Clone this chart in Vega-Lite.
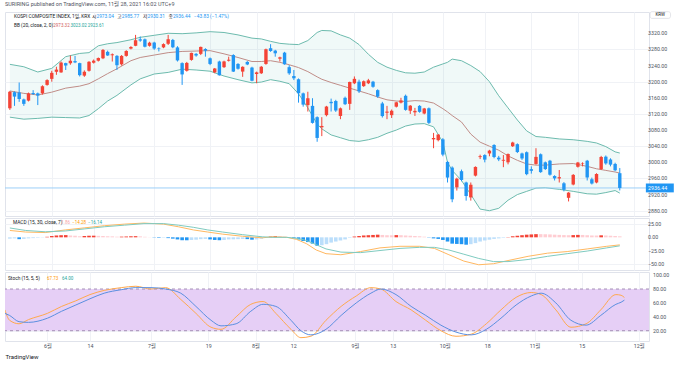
{
"$schema":"https://vega.github.io/schema/vega-lite/v6.json",
"background":"white",
"padding":{"left":4,"top":2,"right":0,"bottom":0},
"config":{"font":"Roboto, 'Noto Sans CJK KR', sans-serif","view":{"stroke":"#E0E3EB"},"axis":{"labelFontSize":5.3,"labelColor":"#4C525E","ticks":false,"domain":false,"gridColor":"#F0F2F6","title":null}},
"title":{"text":"SURIRING published on TradingView.com, 11월 28, 2021 16:02 UTC+9","anchor":"start","fontSize":5.5,"fontWeight":"normal","color":"#50535E","offset":3,"frame":"group"},
"spacing":0,
"datasets":{
"c":[{"i":0,"o":3134,"h":3177,"l":3130,"c":3175},{"i":1,"o":3174,"h":3176,"l":3140,"c":3163},{"i":2,"o":3173,"h":3198,"l":3150,"c":3157},{"i":3,"o":3156,"h":3158,"l":3140,"c":3145},{"i":4,"o":3153,"h":3173,"l":3151,"c":3171},{"i":5,"o":3172,"h":3179,"l":3167,"c":3169.5},{"i":6,"o":3171,"h":3173,"l":3142,"c":3165.5},{"i":7,"o":3171,"h":3191,"l":3168,"c":3188.7},{"i":8,"o":3192,"h":3206,"l":3190,"c":3203.9},{"i":9,"o":3207,"h":3227,"l":3200,"c":3221.9},{"i":10,"o":3224.5,"h":3237,"l":3217,"c":3230},{"i":11,"o":3223,"h":3250,"l":3222,"c":3247.4},{"i":12,"o":3246,"h":3247,"l":3229,"c":3240.1},{"i":13,"o":3246,"h":3265,"l":3242,"c":3252.1},{"i":14,"o":3251,"h":3264,"l":3246,"c":3247.8},{"i":15,"o":3246,"h":3247,"l":3213,"c":3216.2},{"i":16,"o":3215,"h":3228,"l":3212,"c":3224.6},{"i":17,"o":3227,"h":3251,"l":3225,"c":3249.3},{"i":18,"o":3247,"h":3255,"l":3245,"c":3252.1},{"i":19,"o":3252,"h":3260,"l":3250,"c":3258.6},{"i":20,"o":3258,"h":3281,"l":3256,"c":3278.7},{"i":21,"o":3274,"h":3277,"l":3264,"c":3265},{"i":22,"o":3265.5,"h":3270,"l":3250,"c":3267.9},{"i":23,"o":3264,"h":3266,"l":3229,"c":3240.8},{"i":24,"o":3243,"h":3266,"l":3240,"c":3263.9},{"i":25,"o":3264,"h":3278,"l":3262,"c":3276.2},{"i":26,"o":3282,"h":3288,"l":3280,"c":3286.1},{"i":27,"o":3289,"h":3316,"l":3288,"c":3302.8},{"i":28,"o":3305,"h":3312,"l":3299,"c":3301.9},{"i":29,"o":3305,"h":3307,"l":3285,"c":3286.7},{"i":30,"o":3289,"h":3299,"l":3287,"c":3296.7},{"i":31,"o":3297,"h":3299,"l":3279,"c":3282.1},{"i":32,"o":3283,"h":3285,"l":3275,"c":3281.8},{"i":33,"o":3285,"h":3295,"l":3283,"c":3293.2},{"i":34,"o":3294,"h":3316,"l":3291,"c":3305.2},{"i":35,"o":3303.5,"h":3306,"l":3283,"c":3285.3},{"i":36,"o":3285,"h":3288,"l":3250,"c":3252.7},{"i":37,"o":3246,"h":3248,"l":3192,"c":3218},{"i":38,"o":3227,"h":3249,"l":3225,"c":3246.5},{"i":39,"o":3254,"h":3272,"l":3252,"c":3271.4},{"i":40,"o":3269,"h":3271,"l":3262,"c":3264.9},{"i":41,"o":3269,"h":3287,"l":3266,"c":3286.2},{"i":42,"o":3281,"h":3283,"l":3262,"c":3276.9},{"i":43,"o":3258,"h":3260,"l":3241,"c":3244},{"i":44,"o":3223,"h":3234,"l":3221,"c":3232.7},{"i":45,"o":3250,"h":3252,"l":3215,"c":3215.9},{"i":46,"o":3236,"h":3252,"l":3234,"c":3250.2},{"i":47,"o":3252,"h":3262,"l":3250,"c":3254.4},{"i":48,"o":3266,"h":3268,"l":3224,"c":3225},{"i":49,"o":3244,"h":3246,"l":3230,"c":3232.1},{"i":50,"o":3225,"h":3238,"l":3212,"c":3236.9},{"i":51,"o":3249,"h":3251,"l":3241,"c":3242.7},{"i":52,"o":3235,"h":3237,"l":3201,"c":3202.3},{"i":53,"o":3219,"h":3225,"l":3196,"c":3223},{"i":54,"o":3221,"h":3239,"l":3219,"c":3237.1},{"i":55,"o":3244,"h":3282,"l":3242,"c":3280.4},{"i":56,"o":3283,"h":3293,"l":3274,"c":3276.1},{"i":57,"o":3277,"h":3279,"l":3262,"c":3270.4},{"i":58,"o":3257,"h":3262,"l":3250,"c":3260.4},{"i":59,"o":3272,"h":3274,"l":3242,"c":3243.2},{"i":60,"o":3236,"h":3241,"l":3217,"c":3220.7},{"i":61,"o":3214,"h":3229,"l":3204,"c":3208.4},{"i":62,"o":3206,"h":3208,"l":3148,"c":3171.3},{"i":63,"o":3171,"h":3173,"l":3138,"c":3143.1},{"i":64,"o":3142,"h":3175,"l":3126,"c":3158.9},{"i":65,"o":3140,"h":3159,"l":3096,"c":3097.8},{"i":66,"o":3112,"h":3114,"l":3051,"c":3060.5},{"i":67,"o":3087,"h":3112,"l":3065,"c":3090.2},{"i":68,"o":3117,"h":3140,"l":3114,"c":3138.3},{"i":69,"o":3150,"h":3158,"l":3126,"c":3146.6},{"i":70,"o":3152,"h":3155,"l":3125,"c":3128.5},{"i":71,"o":3115,"h":3136,"l":3107,"c":3133.9},{"i":72,"o":3160,"h":3163,"l":3142,"c":3144.2},{"i":73,"o":3145,"h":3200,"l":3130,"c":3199.3},{"i":74,"o":3196,"h":3213,"l":3194,"c":3207},{"i":75,"o":3200,"h":3205,"l":3172,"c":3175.9},{"i":76,"o":3189,"h":3203,"l":3187,"c":3201.1},{"i":77,"o":3196,"h":3207,"l":3194,"c":3203.3},{"i":78,"o":3200,"h":3202,"l":3185,"c":3187.4},{"i":79,"o":3179,"h":3181,"l":3160,"c":3163},{"i":80,"o":3146,"h":3150,"l":3111,"c":3114.7},{"i":81,"o":3123,"h":3140,"l":3107,"c":3125.8},{"i":82,"o":3117,"h":3131,"l":3110,"c":3127.9},{"i":83,"o":3138,"h":3150,"l":3136,"c":3148.8},{"i":84,"o":3148,"h":3160,"l":3146,"c":3153.4},{"i":85,"o":3165,"h":3168,"l":3128,"c":3130.1},{"i":86,"o":3128,"h":3142,"l":3120,"c":3140.5},{"i":87,"o":3124,"h":3135,"l":3115,"c":3127.6},{"i":88,"o":3140,"h":3142,"l":3123,"c":3125.2},{"i":89,"o":3121,"h":3135,"l":3119,"c":3133.6},{"i":90,"o":3134,"h":3136,"l":3095,"c":3097.9},{"i":91,"o":3057,"h":3073,"l":3035,"c":3060.3},{"i":92,"o":3055,"h":3070,"l":3052,"c":3068.8},{"i":93,"o":3057,"h":3060,"l":3015,"c":3019.2},{"i":94,"o":3001,"h":3003,"l":2950,"c":2962.2},{"i":95,"o":2987,"h":2990,"l":2901,"c":2908.3},{"i":96,"o":2938,"h":2962,"l":2930,"c":2959.5},{"i":97,"o":2978,"h":2982,"l":2953,"c":2956.3},{"i":98,"o":2950,"h":2952,"l":2905,"c":2916.4},{"i":99,"o":2913,"h":2950,"l":2905,"c":2944.4},{"i":100,"o":2967,"h":2990,"l":2965,"c":2988.6},{"i":101,"o":3013,"h":3019,"l":3008,"c":3015.1},{"i":102,"o":3018,"h":3020,"l":3000,"c":3006.7},{"i":103,"o":3022,"h":3031,"l":3015,"c":3029},{"i":104,"o":3043,"h":3045,"l":3010,"c":3013.1},{"i":105,"o":3011.6,"h":3016,"l":3003,"c":3007.3},{"i":106,"o":3004,"h":3018,"l":2988,"c":3006.2},{"i":107,"o":3000,"h":3022,"l":2995,"c":3020.5},{"i":108,"o":3040,"h":3051,"l":3038,"c":3049.1},{"i":109,"o":3045,"h":3047,"l":3023,"c":3025.5},{"i":110,"o":3022,"h":3024,"l":3006,"c":3009.6},{"i":111,"o":3025,"h":3027,"l":2968,"c":2970.7},{"i":112,"o":2983,"h":2990,"l":2972,"c":2979},{"i":113,"o":2996,"h":3035,"l":2994,"c":3013.5},{"i":114,"o":3020,"h":3022,"l":2974,"c":2975.7},{"i":115,"o":3000,"h":3002,"l":2981,"c":2983.3},{"i":116,"o":3004,"h":3006,"l":2967,"c":2969.3},{"i":117,"o":2966,"h":2968,"l":2955,"c":2960.2},{"i":118,"o":2960,"h":2981,"l":2950,"c":2963.2},{"i":119,"o":2948,"h":2951,"l":2928,"c":2932},{"i":120,"o":2912,"h":2926,"l":2903,"c":2924.9},{"i":121,"o":2945,"h":2971,"l":2943,"c":2968.8},{"i":122,"o":2989,"h":3001,"l":2987,"c":2999.5},{"i":123,"o":2996,"h":3000,"l":2990,"c":2997.2},{"i":124,"o":3004,"h":3006,"l":2955,"c":2962.4},{"i":125,"o":2958,"h":2962,"l":2945,"c":2947.4},{"i":126,"o":2950,"h":2973,"l":2948,"c":2971},{"i":127,"o":2983,"h":3016,"l":2981,"c":3013.3},{"i":128,"o":3014,"h":3017,"l":2994,"c":2997.3},{"i":129,"o":3007,"h":3010,"l":2990,"c":2994.3},{"i":130,"o":2996,"h":2999,"l":2978,"c":2980.3},{"i":131,"o":2973.04,"h":2985.77,"l":2930.31,"c":2936.44}],
"bb":[{"i":0,"u":3243,"m":3177,"l":3112},{"i":3,"u":3237,"m":3171,"l":3107},{"i":6,"u":3224,"m":3167,"l":3109},{"i":9,"u":3233,"m":3174,"l":3112},{"i":12,"u":3262,"m":3184,"l":3111},{"i":15,"u":3270,"m":3189,"l":3110},{"i":17,"u":3272,"m":3195,"l":3116},{"i":19,"u":3289,"m":3207,"l":3133},{"i":21,"u":3294,"m":3220,"l":3152},{"i":23,"u":3297,"m":3232,"l":3166},{"i":26,"u":3304,"m":3252,"l":3192},{"i":28,"u":3310,"m":3260,"l":3207},{"i":31,"u":3315,"m":3266,"l":3219},{"i":34,"u":3320,"m":3272,"l":3223},{"i":37,"u":3319,"m":3275,"l":3231},{"i":40,"u":3321,"m":3276,"l":3229},{"i":43,"u":3324,"m":3277,"l":3226},{"i":46,"u":3322,"m":3269,"l":3214},{"i":49,"u":3316,"m":3260,"l":3205},{"i":52,"u":3308,"m":3250,"l":3197},{"i":54,"u":3306,"m":3250,"l":3199},{"i":56,"u":3300,"m":3252,"l":3205},{"i":58,"u":3295,"m":3248,"l":3201},{"i":60,"u":3293,"m":3242,"l":3195},{"i":62,"u":3292,"m":3235,"l":3170},{"i":64,"u":3302,"m":3225,"l":3135},{"i":66,"u":3322,"m":3212,"l":3095},{"i":67,"u":3327,"m":3206,"l":3083},{"i":69,"u":3326,"m":3198,"l":3068},{"i":71,"u":3316,"m":3191,"l":3061},{"i":73,"u":3308,"m":3184,"l":3054},{"i":75,"u":3292,"m":3177,"l":3052},{"i":77,"u":3268,"m":3170,"l":3056},{"i":79,"u":3248,"m":3162,"l":3062},{"i":81,"u":3236,"m":3155,"l":3072},{"i":83,"u":3228,"m":3152,"l":3080},{"i":85,"u":3222,"m":3151,"l":3090},{"i":87,"u":3221,"m":3153,"l":3095},{"i":89,"u":3224,"m":3152,"l":3096},{"i":91,"u":3236,"m":3147,"l":3088},{"i":93,"u":3244,"m":3133,"l":3050},{"i":94,"u":3248,"m":3125,"l":3000},{"i":95,"u":3256,"m":3116,"l":2980},{"i":97,"u":3252,"m":3100,"l":2955},{"i":99,"u":3240,"m":3070,"l":2920},{"i":101,"u":3225,"m":3050,"l":2884},{"i":103,"u":3200,"m":3040,"l":2880},{"i":105,"u":3165,"m":3030,"l":2886},{"i":107,"u":3135,"m":3016,"l":2906},{"i":109,"u":3105,"m":3005,"l":2920},{"i":111,"u":3078,"m":2996,"l":2928},{"i":113,"u":3064,"m":2993,"l":2936},{"i":115,"u":3062,"m":2993,"l":2937},{"i":118,"u":3058,"m":2996,"l":2933},{"i":121,"u":3056,"m":2997,"l":2928},{"i":124,"u":3052,"m":2990,"l":2922},{"i":126,"u":3048,"m":2984,"l":2921},{"i":128,"u":3039,"m":2980,"l":2925},{"i":130,"u":3026,"m":2976,"l":2930},{"i":131,"u":3023.02,"m":2973.32,"l":2923.61}],
"ml":[{"i":0,"m":13,"s":17.7},{"i":3.4,"m":10,"s":13},{"i":7.6,"m":9,"s":10.5},{"i":11.9,"m":14,"s":12},{"i":16.1,"m":18,"s":16},{"i":20.3,"m":22,"s":20},{"i":24.6,"m":25,"s":23},{"i":28.8,"m":27,"s":26},{"i":33,"m":25,"s":26},{"i":36.2,"m":20,"s":23},{"i":39.4,"m":14,"s":19},{"i":42.5,"m":10,"s":14},{"i":45.7,"m":6,"s":10},{"i":50,"m":2,"s":5},{"i":54.2,"m":-1,"s":1},{"i":56.3,"m":1,"s":0},{"i":59.5,"m":0,"s":0},{"i":61.6,"m":-4,"s":-2},{"i":63.7,"m":-12,"s":-6},{"i":65.8,"m":-24,"s":-14},{"i":67.9,"m":-31,"s":-22},{"i":71.1,"m":-33,"s":-28},{"i":75.3,"m":-27,"s":-29},{"i":79.5,"m":-20,"s":-25},{"i":83.8,"m":-17,"s":-21},{"i":88,"m":-17,"s":-19},{"i":91.2,"m":-21,"s":-19},{"i":94.3,"m":-33,"s":-24},{"i":97.5,"m":-45,"s":-32},{"i":100.7,"m":-52,"s":-40},{"i":103.9,"m":-50,"s":-46},{"i":107,"m":-44,"s":-46},{"i":111.3,"m":-36,"s":-42},{"i":115.5,"m":-30,"s":-36},{"i":119.7,"m":-27,"s":-31},{"i":124,"m":-22,"s":-26},{"i":128.2,"m":-17,"s":-20},{"i":131,"m":-14.28,"s":-16.14}],
"hist":[{"i":0,"h":-2.5,"k":"lb"},{"i":1,"h":-2,"k":"lb"},{"i":2,"h":-3.5,"k":"b"},{"i":3,"h":-3,"k":"lb"},{"i":4,"h":-2,"k":"lb"},{"i":5,"h":-1.5,"k":"lb"},{"i":6,"h":-1,"k":"lb"},{"i":7,"h":-0.5,"k":"lb"},{"i":8,"h":1,"k":"r"},{"i":9,"h":2.5,"k":"r"},{"i":10,"h":3.5,"k":"r"},{"i":11,"h":4,"k":"r"},{"i":12,"h":4.2,"k":"r"},{"i":13,"h":3.5,"k":"p"},{"i":14,"h":3,"k":"p"},{"i":15,"h":2,"k":"p"},{"i":16,"h":2.5,"k":"r"},{"i":17,"h":3,"k":"r"},{"i":18,"h":3.1,"k":"r"},{"i":19,"h":2.8,"k":"p"},{"i":20,"h":2.5,"k":"p"},{"i":21,"h":2,"k":"p"},{"i":22,"h":1.8,"k":"p"},{"i":23,"h":1.2,"k":"p"},{"i":24,"h":1.3,"k":"r"},{"i":25,"h":1.6,"k":"r"},{"i":26,"h":2,"k":"r"},{"i":27,"h":2.2,"k":"r"},{"i":28,"h":1.8,"k":"p"},{"i":29,"h":1,"k":"p"},{"i":30,"h":0.3,"k":"p"},{"i":31,"h":-0.5,"k":"b"},{"i":32,"h":-1,"k":"b"},{"i":33,"h":-0.8,"k":"lb"},{"i":34,"h":-1.5,"k":"b"},{"i":35,"h":-2.5,"k":"b"},{"i":36,"h":-4,"k":"b"},{"i":37,"h":-5.5,"k":"b"},{"i":38,"h":-5.6,"k":"b"},{"i":39,"h":-5,"k":"lb"},{"i":40,"h":-4.5,"k":"lb"},{"i":41,"h":-3.5,"k":"lb"},{"i":42,"h":-3,"k":"lb"},{"i":43,"h":-4,"k":"b"},{"i":44,"h":-5,"k":"b"},{"i":45,"h":-5.5,"k":"b"},{"i":46,"h":-5,"k":"lb"},{"i":47,"h":-4,"k":"lb"},{"i":48,"h":-3.8,"k":"lb"},{"i":49,"h":-3.5,"k":"lb"},{"i":50,"h":-3,"k":"lb"},{"i":51,"h":-3.4,"k":"b"},{"i":52,"h":-4.5,"k":"b"},{"i":53,"h":-4,"k":"lb"},{"i":54,"h":-2.5,"k":"lb"},{"i":55,"h":-0.5,"k":"lb"},{"i":56,"h":1.5,"k":"r"},{"i":57,"h":2.5,"k":"r"},{"i":58,"h":2,"k":"p"},{"i":59,"h":1.2,"k":"p"},{"i":60,"h":0.2,"k":"p"},{"i":61,"h":-1.5,"k":"b"},{"i":62,"h":-4,"k":"b"},{"i":63,"h":-7,"k":"b"},{"i":64,"h":-9,"k":"b"},{"i":65,"h":-12,"k":"b"},{"i":66,"h":-16,"k":"b"},{"i":67,"h":-15,"k":"lb"},{"i":68,"h":-13,"k":"lb"},{"i":69,"h":-10,"k":"lb"},{"i":70,"h":-8,"k":"lb"},{"i":71,"h":-6,"k":"lb"},{"i":72,"h":-4,"k":"lb"},{"i":73,"h":-1,"k":"lb"},{"i":74,"h":1.5,"k":"r"},{"i":75,"h":2.5,"k":"r"},{"i":76,"h":3.5,"k":"r"},{"i":77,"h":4,"k":"r"},{"i":78,"h":4.5,"k":"r"},{"i":79,"h":5,"k":"r"},{"i":80,"h":4.5,"k":"p"},{"i":81,"h":4,"k":"p"},{"i":82,"h":3.9,"k":"p"},{"i":83,"h":4.2,"k":"r"},{"i":84,"h":4,"k":"p"},{"i":85,"h":3.5,"k":"p"},{"i":86,"h":3,"k":"p"},{"i":87,"h":2.5,"k":"p"},{"i":88,"h":2,"k":"p"},{"i":89,"h":1.2,"k":"p"},{"i":90,"h":-0.5,"k":"b"},{"i":91,"h":-2,"k":"b"},{"i":92,"h":-3,"k":"b"},{"i":93,"h":-5,"k":"b"},{"i":94,"h":-8,"k":"b"},{"i":95,"h":-12,"k":"b"},{"i":96,"h":-12.5,"k":"b"},{"i":97,"h":-13,"k":"b"},{"i":98,"h":-14,"k":"b"},{"i":99,"h":-13,"k":"lb"},{"i":100,"h":-11,"k":"lb"},{"i":101,"h":-8,"k":"lb"},{"i":102,"h":-6,"k":"lb"},{"i":103,"h":-4.5,"k":"lb"},{"i":104,"h":-3,"k":"lb"},{"i":105,"h":-2,"k":"lb"},{"i":106,"h":-1,"k":"lb"},{"i":107,"h":0.5,"k":"r"},{"i":108,"h":2,"k":"r"},{"i":109,"h":3,"k":"r"},{"i":110,"h":4,"k":"r"},{"i":111,"h":5,"k":"r"},{"i":112,"h":5.5,"k":"r"},{"i":113,"h":6,"k":"r"},{"i":114,"h":6,"k":"p"},{"i":115,"h":5.8,"k":"p"},{"i":116,"h":5.5,"k":"p"},{"i":117,"h":5,"k":"p"},{"i":118,"h":4.6,"k":"p"},{"i":119,"h":4.2,"k":"p"},{"i":120,"h":4,"k":"p"},{"i":121,"h":4.2,"k":"r"},{"i":122,"h":4.6,"k":"r"},{"i":123,"h":4.5,"k":"p"},{"i":124,"h":4,"k":"p"},{"i":125,"h":3.5,"k":"p"},{"i":126,"h":3.4,"k":"p"},{"i":127,"h":3.8,"k":"r"},{"i":128,"h":3.5,"k":"p"},{"i":129,"h":3,"k":"p"},{"i":130,"h":2.5,"k":"p"},{"i":131,"h":1.86,"k":"p"}],
"st":[{"i":0,"k":50,"d":45},{"i":1,"k":35,"d":42},{"i":3,"k":30,"d":33},{"i":5,"k":36,"d":32},{"i":9,"k":45,"d":38},{"i":12,"k":55,"d":48},{"i":15,"k":63,"d":57},{"i":18,"k":72,"d":66},{"i":21,"k":78,"d":74},{"i":24.6,"k":82,"d":79},{"i":27.7,"k":84,"d":82},{"i":30.9,"k":80,"d":82},{"i":34,"k":82,"d":80},{"i":37.2,"k":65,"d":74},{"i":40.4,"k":45,"d":55},{"i":43.6,"k":25,"d":35},{"i":45.7,"k":22,"d":27},{"i":48.9,"k":40,"d":30},{"i":52,"k":58,"d":48},{"i":54.6,"k":62,"d":58},{"i":57.3,"k":45,"d":55},{"i":60.5,"k":22,"d":35},{"i":62.6,"k":10,"d":20},{"i":64.7,"k":12,"d":14},{"i":67.9,"k":35,"d":22},{"i":71.1,"k":55,"d":42},{"i":74.3,"k":70,"d":60},{"i":77.4,"k":82,"d":74},{"i":79.5,"k":80,"d":80},{"i":82.7,"k":62,"d":72},{"i":85.9,"k":50,"d":55},{"i":89,"k":35,"d":42},{"i":92.2,"k":20,"d":28},{"i":95.4,"k":12,"d":18},{"i":98.6,"k":15,"d":14},{"i":101.8,"k":30,"d":22},{"i":104.9,"k":50,"d":38},{"i":108.1,"k":68,"d":57},{"i":111.3,"k":75,"d":70},{"i":113.4,"k":72,"d":74},{"i":116.5,"k":50,"d":60},{"i":119.7,"k":25,"d":35},{"i":122.9,"k":30,"d":28},{"i":126,"k":50,"d":42},{"i":129.2,"k":72,"d":58},{"i":130.3,"k":71,"d":61},{"i":131,"k":67.73,"d":64}],
"pt":[{"v":2880},{"v":2920},{"v":2960},{"v":3000},{"v":3040},{"v":3080},{"v":3120},{"v":3160},{"v":3200},{"v":3240},{"v":3280},{"v":3320}],
"mt":[{"v":25},{"v":0},{"v":-25},{"v":-50}],
"stt":[{"v":100},{"v":80},{"v":60},{"v":40},{"v":20}]
},
"vconcat":[
{"width":644,"height":204,"data":{"values":[{}]},
 "layer":[
 {"data":{"name":"bb"},"mark":{"type":"area","color":"#26A69A","opacity":0.07,"clip":true},
  "encoding":{"x":{"field":"i","type":"quantitative","scale":{"domain":[0.03,136.2],"nice":false,"zero":false},"axis":{"values":[9,18,31,43,53,61,74,82,93,102,112,122,134],"labels":false,"grid":true}},
   "y":{"field":"l","type":"quantitative","scale":{"domain":[2866.9,3372.8],"nice":false,"zero":false},"axis":{"orient":"right","values":[2880,2920,2960,3000,3040,3080,3120,3160,3200,3240,3280,3320],"labels":false,"grid":true}},
   "y2":{"field":"u"}}},
 {"data":{"name":"bb"},"mark":{"type":"line","color":"#6DBBAE","strokeWidth":1,"clip":true},"encoding":{"x":{"field":"i","type":"quantitative"},"y":{"field":"u","type":"quantitative"}}},
 {"data":{"name":"bb"},"mark":{"type":"line","color":"#6DBBAE","strokeWidth":1,"clip":true},"encoding":{"x":{"field":"i","type":"quantitative"},"y":{"field":"l","type":"quantitative"}}},
 {"data":{"name":"bb"},"mark":{"type":"line","color":"#C08D88","strokeWidth":1,"clip":true},"encoding":{"x":{"field":"i","type":"quantitative"},"y":{"field":"m","type":"quantitative"}}},
 {"mark":{"type":"rule","color":"#9CCFF8","strokeWidth":1},"encoding":{"y":{"datum":2936.44}}},
 {"data":{"name":"c"},"mark":{"type":"rule","strokeWidth":1,"clip":true},
  "encoding":{"x":{"field":"i","type":"quantitative"},"y":{"field":"l","type":"quantitative"},"y2":{"field":"h"},
   "color":{"condition":{"test":"datum.c >= datum.o","value":"#F44336"},"value":"#2196F3"}}},
 {"data":{"name":"c"},"mark":{"type":"bar","size":3.4,"clip":true},
  "encoding":{"x":{"field":"i","type":"quantitative"},"y":{"field":"o","type":"quantitative"},"y2":{"field":"c"},
   "color":{"condition":{"test":"datum.c >= datum.o","value":"#F44336"},"value":"#2196F3"}}},
 {"data":{"name":"pt"},"mark":{"type":"text","align":"left","baseline":"middle","fontSize":5.3,"color":"#4C525E","clip":false},"encoding":{"x":{"datum":137.05},"y":{"field":"v","type":"quantitative"},"text":{"field":"v","type":"quantitative","format":".2f"}}},
 {"mark":{"type":"text","align":"left","baseline":"middle","fontSize":4.8,"color":"#131722","text":"KOSPI COMPOSITE INDEX, 1일, KRX"},"encoding":{"x":{"datum":0.88},"y":{"datum":3361.6}}},
 {"mark":{"type":"text","align":"left","baseline":"middle","fontSize":4.8,"color":"#131722","text":"시"},"encoding":{"x":{"datum":17.64},"y":{"datum":3361.6}}},
 {"mark":{"type":"text","align":"left","baseline":"middle","fontSize":4.8,"color":"#2196F3","text":"2973.04"},"encoding":{"x":{"datum":18.6},"y":{"datum":3361.6}}},
 {"mark":{"type":"text","align":"left","baseline":"middle","fontSize":4.8,"color":"#131722","text":"고"},"encoding":{"x":{"datum":23.08},"y":{"datum":3361.6}}},
 {"mark":{"type":"text","align":"left","baseline":"middle","fontSize":4.8,"color":"#2196F3","text":"2985.77"},"encoding":{"x":{"datum":24.03},"y":{"datum":3361.6}}},
 {"mark":{"type":"text","align":"left","baseline":"middle","fontSize":4.8,"color":"#131722","text":"저"},"encoding":{"x":{"datum":28.62},"y":{"datum":3361.6}}},
 {"mark":{"type":"text","align":"left","baseline":"middle","fontSize":4.8,"color":"#2196F3","text":"2930.31"},"encoding":{"x":{"datum":29.57},"y":{"datum":3361.6}}},
 {"mark":{"type":"text","align":"left","baseline":"middle","fontSize":4.8,"color":"#131722","text":"종"},"encoding":{"x":{"datum":34.07},"y":{"datum":3361.6}}},
 {"mark":{"type":"text","align":"left","baseline":"middle","fontSize":4.8,"color":"#2196F3","text":"2936.44"},"encoding":{"x":{"datum":35.02},"y":{"datum":3361.6}}},
 {"mark":{"type":"text","align":"left","baseline":"middle","fontSize":4.8,"color":"#2196F3","text":"−43.83 (−1.47%)"},"encoding":{"x":{"datum":39.57},"y":{"datum":3361.6}}},
 {"mark":{"type":"text","align":"left","baseline":"middle","fontSize":4.8,"color":"#131722","text":"BB (20, close, 2, 0)"},"encoding":{"x":{"datum":0.88},"y":{"datum":3338}}},
 {"mark":{"type":"text","align":"left","baseline":"middle","fontSize":4.5,"color":"#D05A5A","text":"2973.32"},"encoding":{"x":{"datum":9.33},"y":{"datum":3338}}},
 {"mark":{"type":"text","align":"left","baseline":"middle","fontSize":4.5,"color":"#26A69A","text":"3023.02"},"encoding":{"x":{"datum":13.03},"y":{"datum":3338}}},
 {"mark":{"type":"text","align":"left","baseline":"middle","fontSize":4.5,"color":"#26A69A","text":"2923.61"},"encoding":{"x":{"datum":16.73},"y":{"datum":3338}}},
 {"mark":{"type":"rect","fill":"white","stroke":"#D1D4DC","strokeWidth":0.6,"cornerRadius":2,"clip":false},"encoding":{"x":{"datum":137.5},"x2":{"datum":141.9},"y":{"datum":3357},"y2":{"datum":3373.5}}},
 {"mark":{"type":"text","align":"center","baseline":"middle","fontSize":4.5,"color":"#131722","clip":false,"text":"KRW"},"encoding":{"x":{"datum":139.7},"y":{"datum":3365.2}}},
 {"mark":{"type":"rect","color":"#2196F3","clip":false},"encoding":{"x":{"datum":136.6},"x2":{"datum":142.6},"y":{"datum":2925.5},"y2":{"datum":2947.5}}},
 {"mark":{"type":"text","align":"left","baseline":"middle","fontSize":5.3,"color":"white","clip":false,"text":"2936.44"},"encoding":{"x":{"datum":137.05},"y":{"datum":2936.44}}}
 ]},
{"width":644,"height":52,"data":{"values":[{}]},
 "layer":[
 {"data":{"name":"hist"},"mark":{"type":"bar","size":3.6,"clip":true},
  "encoding":{"x":{"field":"i","type":"quantitative","scale":{"domain":[0.03,136.2],"nice":false,"zero":false},"axis":{"values":[9,18,31,43,53,61,74,82,93,102,112,122,134],"labels":false,"grid":true}},
   "y":{"field":"h","type":"quantitative","scale":{"domain":[-61.9,36.6],"nice":false,"zero":false},"axis":{"orient":"right","values":[25,0,-25,-50],"labels":false,"grid":true}},
   "color":{"field":"k","type":"nominal","scale":{"domain":["r","p","b","lb"],"range":["#F44336","#FFCDD2","#2196F3","#BBDEFB"]},"legend":null}}},
 {"data":{"name":"ml"},"mark":{"type":"line","color":"#FFB861","strokeWidth":1,"clip":true},"encoding":{"x":{"field":"i","type":"quantitative"},"y":{"field":"m","type":"quantitative"}}},
 {"data":{"name":"ml"},"mark":{"type":"line","color":"#7FCBC0","strokeWidth":1,"clip":true},"encoding":{"x":{"field":"i","type":"quantitative"},"y":{"field":"s","type":"quantitative"}}},
 {"data":{"name":"mt"},"mark":{"type":"text","align":"left","baseline":"middle","fontSize":5.3,"color":"#4C525E","clip":false},"encoding":{"x":{"datum":137.05},"y":{"field":"v","type":"quantitative"},"text":{"field":"v","type":"quantitative","format":".2f"}}},
 {"mark":{"type":"text","align":"left","baseline":"middle","fontSize":4.8,"color":"#131722","text":"MACD (15, 30, close, 7)"},"encoding":{"x":{"datum":0.67},"y":{"datum":27.1}}},
 {"mark":{"type":"text","align":"left","baseline":"middle","fontSize":4.5,"color":"#F7A3A8","text":"1.86"},"encoding":{"x":{"datum":11.02},"y":{"datum":27.1}}},
 {"mark":{"type":"text","align":"left","baseline":"middle","fontSize":4.5,"color":"#FF9800","text":"−14.28"},"encoding":{"x":{"datum":13.4},"y":{"datum":27.1}}},
 {"mark":{"type":"text","align":"left","baseline":"middle","fontSize":4.5,"color":"#26A69A","text":"−16.14"},"encoding":{"x":{"datum":16.8},"y":{"datum":27.1}}}
 ]},
{"width":644,"height":69,"data":{"values":[{}]},
 "layer":[
 {"mark":{"type":"rect","color":"#E6CFF6"},"encoding":{"y":{"datum":20,"type":"quantitative","scale":{"domain":[5.2,104.5],"nice":false,"zero":false},"axis":{"orient":"right","values":[80,60,40,20],"labels":false,"grid":true}},"y2":{"datum":80}}},
 {"mark":{"type":"rule","color":"#A58FB5","strokeDash":[3,3],"strokeWidth":1},"encoding":{"y":{"datum":80}}},
 {"mark":{"type":"rule","color":"#A58FB5","strokeDash":[3,3],"strokeWidth":1},"encoding":{"y":{"datum":20}}},
 {"data":{"name":"st"},"mark":{"type":"line","color":"#FFA94D","strokeWidth":1,"clip":true,"interpolate":"monotone"},
  "encoding":{"x":{"field":"i","type":"quantitative","scale":{"domain":[0.03,136.2],"nice":false,"zero":false},"axis":{"values":[9,18,31,43,53,61,74,82,93,102,112,122,134],"labelExpr":"['6월','14','7월','19','8월','12','9월','13','10월','18','11월','15','12월'][indexof([9,18,31,43,53,61,74,82,93,102,112,122,134], datum.value)]","grid":true,"labelPadding":2,"title":"TradingView","titleAnchor":"start","titleAlign":"left","titleFontSize":6,"titleFontWeight":"normal","titleColor":"#131722","titlePadding":5}},
   "y":{"field":"k","type":"quantitative"}}},
 {"data":{"name":"st"},"mark":{"type":"line","color":"#5B8FE0","strokeWidth":1,"clip":true,"interpolate":"monotone"},"encoding":{"x":{"field":"i","type":"quantitative"},"y":{"field":"d","type":"quantitative"}}},
 {"data":{"name":"stt"},"mark":{"type":"text","align":"left","baseline":"middle","fontSize":5.3,"color":"#4C525E","clip":false},"encoding":{"x":{"datum":137.05},"y":{"field":"v","type":"quantitative"},"text":{"field":"v","type":"quantitative","format":".2f"}}},
 {"mark":{"type":"text","align":"left","baseline":"middle","fontSize":4.8,"color":"#131722","text":"Stoch (15, 5, 5)"},"encoding":{"x":{"datum":0.67},"y":{"datum":94.4}}},
 {"mark":{"type":"text","align":"left","baseline":"middle","fontSize":4.5,"color":"#FF9800","text":"67.73"},"encoding":{"x":{"datum":8.91},"y":{"datum":94.4}}},
 {"mark":{"type":"text","align":"left","baseline":"middle","fontSize":4.5,"color":"#26A69A","text":"64.00"},"encoding":{"x":{"datum":12.08},"y":{"datum":94.4}}}
 ]}
]
}
